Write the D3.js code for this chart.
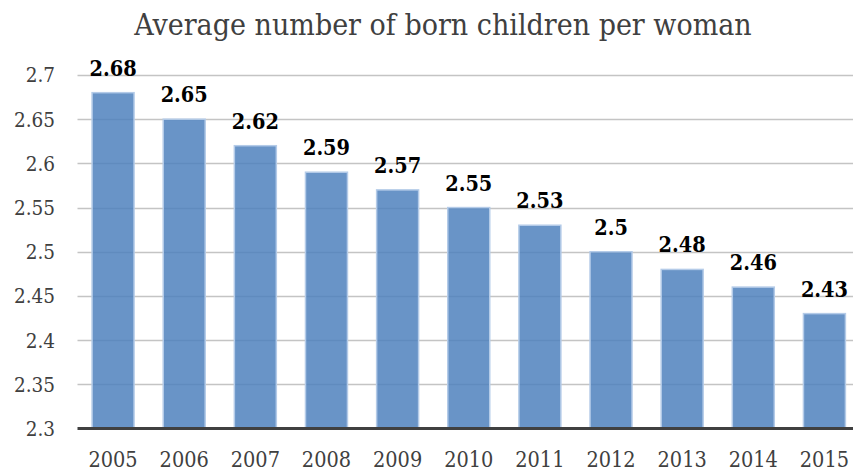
<!DOCTYPE html>
<html>
<head>
<meta charset="utf-8">
<script src="https://cdn.jsdelivr.net/npm/d3@7"></script>
<style>
  html, body { margin: 0; padding: 0; background: #fff; }
  svg { display: block; }
</style>
</head>
<body>
<svg id="chart" width="853" height="470"></svg>
<script>
// Average number of born children per woman, 2005–2015
const years = ["2005", "2006", "2007", "2008", "2009", "2010", "2011", "2012", "2013", "2014", "2015"];
const births = [2.68, 2.65, 2.62, 2.59, 2.57, 2.55, 2.53, 2.5, 2.48, 2.46, 2.43];
const yTicks = [2.3, 2.35, 2.4, 2.45, 2.5, 2.55, 2.6, 2.65, 2.7];
const yTickLabels = ["2.3", "2.35", "2.4", "2.45", "2.5", "2.55", "2.6", "2.65", "2.7"];

const W = 853, H = 470;
const plot = { left: 77.5, right: 860, top: 75, bottom: 428.5 };
const serif = "'DejaVu Serif Condensed', 'DejaVu Serif', serif";

const svg = d3.select("#chart");

const x = d3.scaleBand()
  .domain(years)
  .range([plot.left, plot.right])
  .paddingInner(0.41)
  .paddingOuter(0.205);

const y = d3.scaleLinear()
  .domain([2.3, 2.7])
  .range([plot.bottom, plot.top]);

// title
svg.append("text")
  .attr("x", 443)
  .attr("y", 35)
  .attr("text-anchor", "middle")
  .attr("font-family", serif)
  .attr("font-size", 30)
  .attr("fill", "#404040")
  .text("Average number of born children per woman");

// horizontal gridlines
svg.append("g")
  .selectAll("line")
  .data(yTicks.slice(1))
  .join("line")
  .attr("x1", plot.left)
  .attr("x2", W)
  .attr("y1", d => Math.round(y(d)) + 0.5)
  .attr("y2", d => Math.round(y(d)) + 0.5)
  .attr("stroke", "#c4c4c4")
  .attr("stroke-width", 1.3);

// y-axis tick labels
svg.append("g")
  .selectAll("text")
  .data(yTicks)
  .join("text")
  .attr("x", 55)
  .attr("y", d => y(d))
  .attr("dy", "0.36em")
  .attr("text-anchor", "end")
  .attr("font-family", serif)
  .attr("font-size", 20.5)
  .attr("fill", "#404040")
  .text((d, i) => yTickLabels[i]);

const rows = years.map((yr, i) => ({ year: yr, value: births[i] }));

// bars
svg.append("g")
  .selectAll("rect")
  .data(rows)
  .join("rect")
  .attr("x", d => x(d.year))
  .attr("width", x.bandwidth())
  .attr("y", d => y(d.value))
  .attr("height", d => y(2.3) - y(d.value))
  .attr("fill", "#4f81bd")
  .attr("fill-opacity", 0.85)
  .attr("stroke", "#b4cbe8")
  .attr("stroke-width", 1.5);

// value labels
svg.append("g")
  .selectAll("text")
  .data(rows)
  .join("text")
  .attr("x", d => x(d.year) + x.bandwidth() / 2)
  .attr("y", d => y(d.value) - 17)
  .attr("text-anchor", "middle")
  .attr("font-family", serif)
  .attr("font-weight", "bold")
  .attr("font-size", 21.5)
  .attr("fill", "#000")
  .text(d => String(d.value));

// baseline axis
svg.append("line")
  .attr("x1", plot.left)
  .attr("x2", W)
  .attr("y1", y(2.3))
  .attr("y2", y(2.3))
  .attr("stroke", "#404040")
  .attr("stroke-width", 3);

// year labels
svg.append("g")
  .selectAll("text")
  .data(years)
  .join("text")
  .attr("x", d => x(d) + x.bandwidth() / 2)
  .attr("y", 466.5)
  .attr("text-anchor", "middle")
  .attr("font-family", serif)
  .attr("font-size", 21.5)
  .attr("fill", "#404040")
  .text(d => d);
</script>
</body>
</html>
